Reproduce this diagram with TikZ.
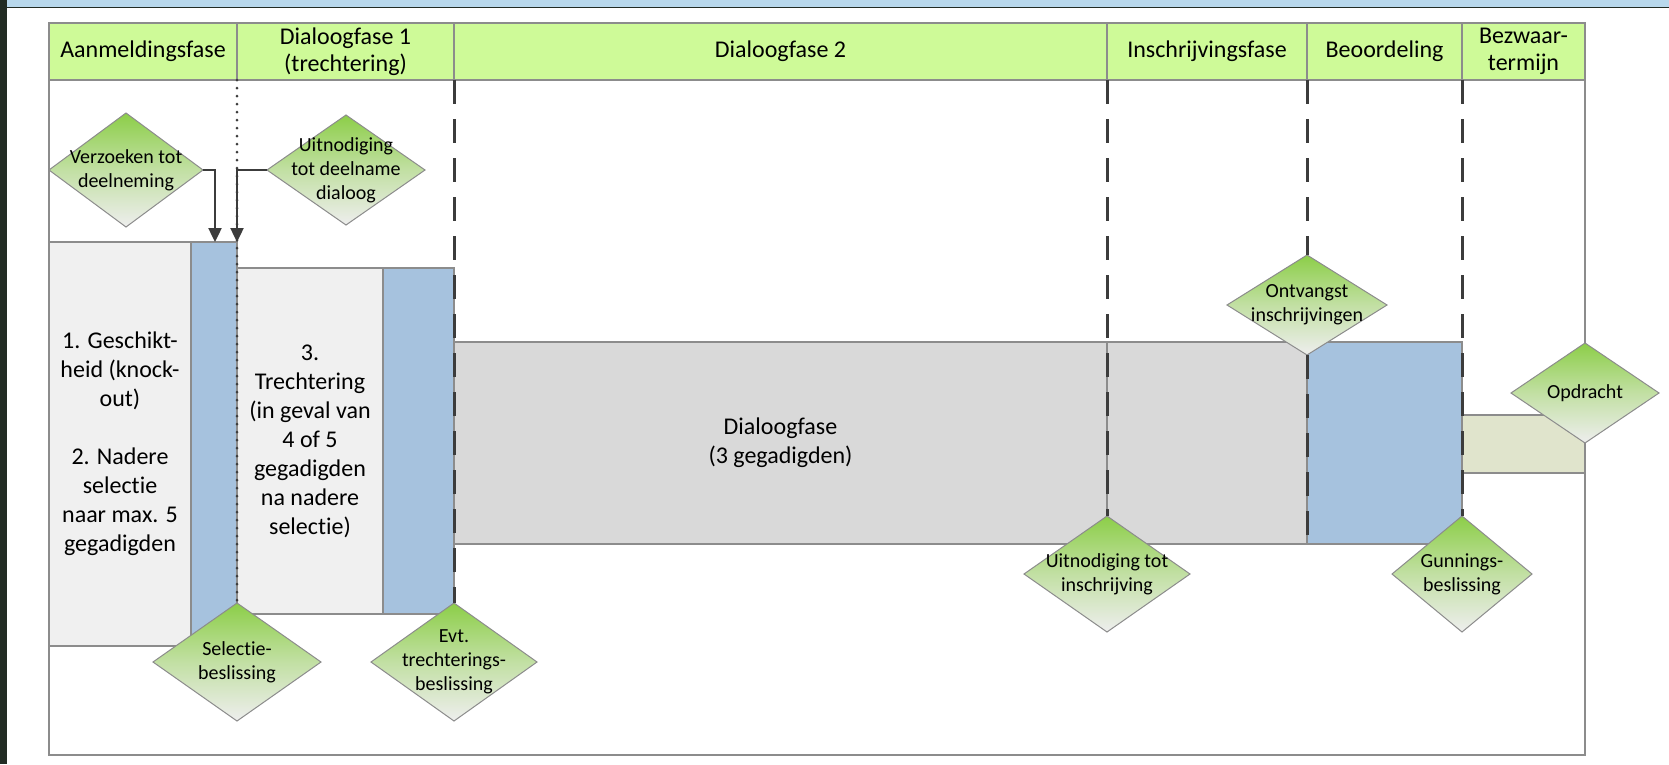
\documentclass[tikz,border=0pt]{standalone}
\usepackage{fontspec}
\setmainfont{Carlito}[Ligatures={NoCommon}]
\usetikzlibrary{shapes.geometric,arrows.meta}
\definecolor{hdrgreen}{RGB}{206,250,152}
\definecolor{boxgray}{RGB}{240,240,240}
\definecolor{stripblue}{RGB}{166,194,222}
\definecolor{dlggray}{RGB}{217,217,217}
\definecolor{olivebox}{RGB}{224,228,204}
\definecolor{edgegray}{RGB}{140,140,140}
\definecolor{dashgray}{RGB}{60,60,60}
\definecolor{dmgreen}{RGB}{140,206,72}
\definecolor{dmgray}{RGB}{238,238,238}
\definecolor{skyblue}{RGB}{184,216,236}
\definecolor{photo}{RGB}{34,44,36}
\begin{document}
\begin{tikzpicture}[x=1pt,y=-1pt,
  hdr/.style={draw=edgegray, line width=1.2pt, fill=hdrgreen, inner sep=0pt, outer sep=0pt,
    anchor=north west, minimum height=57pt, align=center, font=\fontsize{24}{27}\selectfont},
  blk/.style={draw=edgegray, line width=1.2pt, inner sep=0pt, outer sep=0pt, anchor=north west,
    align=center, font=\fontsize{24}{29}\selectfont},
  dm/.style={diamond, draw=edgegray, line width=1pt, top color=dmgreen, bottom color=dmgray,
    middle color=dmgreen!45!dmgray, inner sep=0pt, outer sep=0pt},
  dmtext/.style={font=\fontsize{20}{24}\selectfont, align=center, inner sep=0pt},
  arr/.style={draw=dashgray, line width=2.4pt, -{Triangle[length=14pt,width=13pt]}},
  dotline/.style={draw=dashgray, line width=3pt, line cap=round, dash pattern=on 0pt off 8pt},
  dashline/.style={draw=dashgray, line width=3pt, dash pattern=on 24pt off 15pt}
]
\useasboundingbox (0,0) rectangle (1669,764);
% screenshot background
\fill[white] (0,0) rectangle (1669,764);
\fill[skyblue] (0,0) rectangle (1669,7);
\draw[photo, line width=1.5pt] (0,7.5) -- (1669,7.5);
\fill[photo] (0,0) rectangle (7,764);

% frame
\node[draw=edgegray, line width=1.5pt, fill=white, inner sep=0pt, outer sep=0pt, anchor=north west,
  minimum width=1536pt, minimum height=732pt] (frame) at (49,23) {};

% header
\node[hdr, minimum width=188pt] (h1) at (49,23) {Aanmeldingsfase};
\node[hdr, minimum width=217pt] (h2) at (237,23) {Dialoogfase 1\\(trechtering)};
\node[hdr, minimum width=653pt] (h3) at (454,23) {Dialoogfase 2};
\node[hdr, minimum width=200pt] (h4) at (1107,23) {Inschrijvingsfase};
\node[hdr, minimum width=155pt] (h5) at (1307,23) {Beoordeling};
\node[hdr, minimum width=123pt] (h6) at (1462,23) {Bezwaar-\\termijn};

% blocks
\node[blk, fill=boxgray, minimum width=142pt, minimum height=404pt] (b1) at (49,242)
  {1. Geschikt-\\heid (knock-\\out)\\[29pt]2. Nadere\\selectie\\naar max. 5\\gegadigden};
\node[blk, fill=stripblue, minimum width=46pt, minimum height=404pt] (b1s) at (191,242) {};
\node[blk, fill=boxgray, minimum width=146pt, minimum height=346pt] (b2) at (237,268)
  {3.\\Trechtering\\(in geval van\\4 of 5\\gegadigden\\na nadere\\selectie)};
\node[blk, fill=stripblue, minimum width=71pt, minimum height=346pt] (b2s) at (383,268) {};
\node[blk, fill=dlggray, minimum width=653pt, minimum height=202pt] (dg) at (454,342)
  {Dialoogfase\\(3 gegadigden)};
\node[blk, fill=dlggray, minimum width=200pt, minimum height=202pt] (ig) at (1107,342) {};
\node[blk, fill=stripblue, minimum width=155pt, minimum height=202pt] (bo) at (1307,342) {};
\node[blk, fill=olivebox, minimum width=123pt, minimum height=58pt] (ob) at (1462,415) {};

% diamonds
\node[dm, minimum width=154pt, minimum height=114pt,
  label={[dmtext]center:Verzoeken tot\\deelneming}] (vz) at (126,170) {};
\node[dm, minimum width=158pt, minimum height=110pt,
  label={[dmtext]center:Uitnodiging\\tot deelname\\dialoog}] (ud) at (346,170) {};
\node[dm, minimum width=168pt, minimum height=118pt,
  label={[dmtext]center:Selectie-\\beslissing}] (sel) at (237,662) {};
\node[dm, minimum width=166pt, minimum height=118pt,
  label={[dmtext]center:Evt.\\trechterings-\\beslissing}] (evt) at (454,662) {};
\node[dm, minimum width=166pt, minimum height=116pt,
  label={[dmtext]center:Uitnodiging tot\\inschrijving}] (uti) at (1107,574) {};
\node[dm, minimum width=160pt, minimum height=100pt,
  label={[dmtext]center:Ontvangst\\inschrijvingen}] (ont) at (1307,305) {};
\node[dm, minimum width=140pt, minimum height=116pt,
  label={[dmtext]center:Gunnings-\\beslissing}] (gun) at (1462,574) {};
\node[dm, minimum width=148pt, minimum height=100pt,
  label={[dmtext]center:Opdracht}] (opd) at (1585,393) {};

% phase separators
\draw[dotline] (h1.south east) -- (sel.north);
\draw[dashline] (h2.south east) -- (evt.north);
\draw[dashline] (h3.south east) -- (uti.north);
\draw[dashline] (h4.south east) -- (ont.north);
\draw[dashline] (ont.south) -- (bo.south west);
\draw[dashline] (h5.south east) -- (gun.north);

% arrows
\coordinate (t1) at ([xshift=-22pt]b1s.north east);
\draw[arr] (vz.east) -| (t1);
\draw[arr] (ud.west) -| (b1s.north east);
\end{tikzpicture}
\end{document}
